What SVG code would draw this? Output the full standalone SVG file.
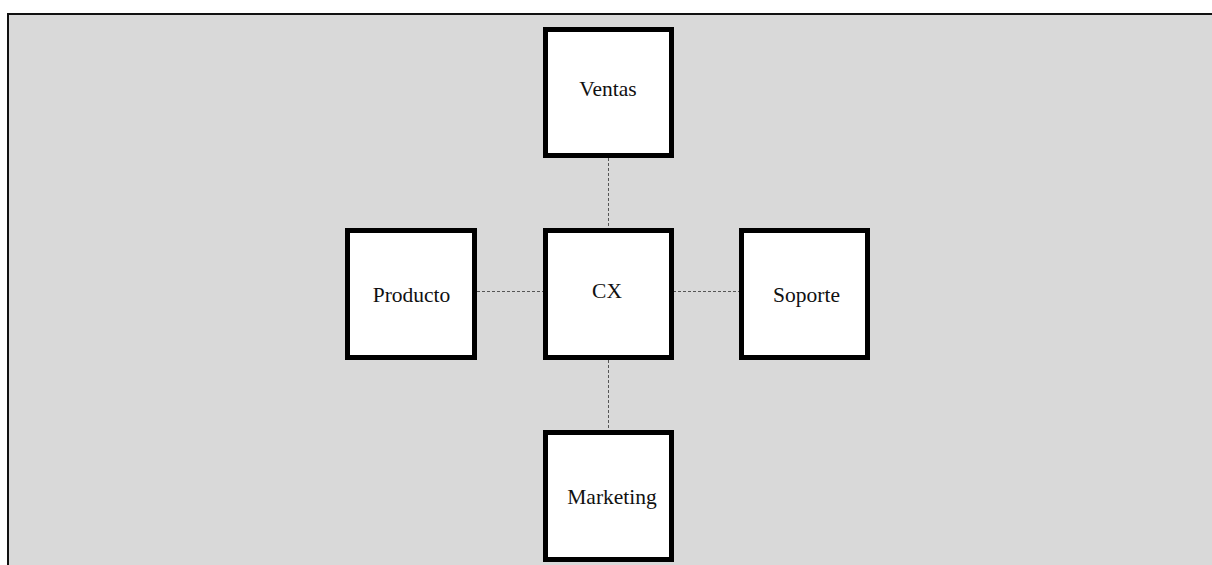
<svg xmlns="http://www.w3.org/2000/svg" width="1212" height="565" viewBox="0 0 1212 565">
<style>
.node rect{fill:#fff;stroke:#000;stroke-width:5}
.node text{font-family:"Liberation Serif","Times New Roman",serif;font-size:21.5px;fill:#111;text-anchor:middle}
.conn line{stroke:#555;stroke-width:1;stroke-dasharray:3 2}
</style>
<rect x="0" y="0" width="1212" height="565" fill="#fff"/>
<rect x="8" y="14" width="1210" height="560" fill="#d9d9d9" stroke="#111" stroke-width="2"/>
<g id="connectors" class="conn">
<line x1="608.5" y1="158" x2="608.5" y2="228"/>
<line x1="608.5" y1="360" x2="608.5" y2="430"/>
<line x1="477" y1="291.5" x2="543" y2="291.5"/>
<line x1="673" y1="291.5" x2="739" y2="291.5"/>
</g>
<g id="ventas" class="node"><rect x="545.5" y="29.5" width="126" height="126"/><text x="608" y="95.5">Ventas</text></g>
<g id="cx" class="node"><rect x="545.5" y="230.5" width="126" height="127"/><text x="607" y="298">CX</text></g>
<g id="producto" class="node"><rect x="347.5" y="230.5" width="127" height="127"/><text x="411.5" y="301.5">Producto</text></g>
<g id="soporte" class="node"><rect x="741.5" y="230.5" width="126" height="127"/><text x="806.5" y="301.5">Soporte</text></g>
<g id="marketing" class="node"><rect x="545.5" y="432.5" width="126" height="127"/><text x="612" y="503.5">Marketing</text></g>
</svg>
